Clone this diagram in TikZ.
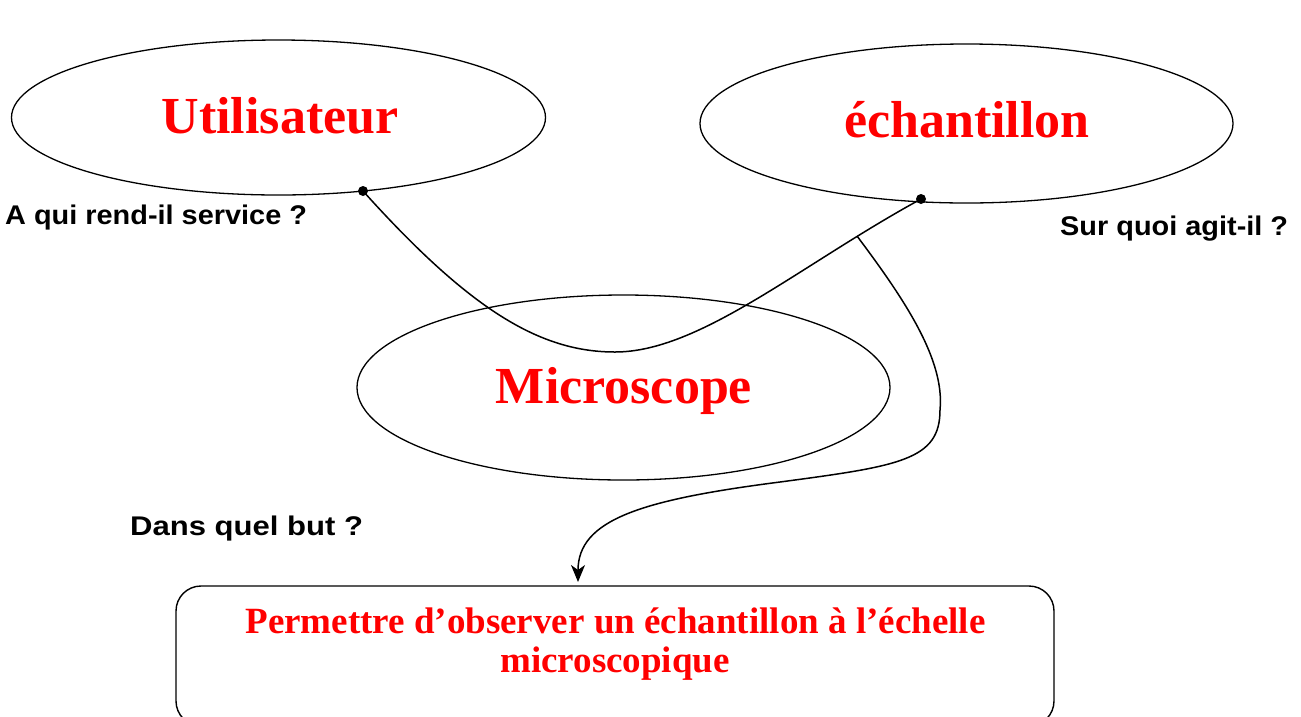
\documentclass[tikz,border=0pt]{standalone}
\usepackage{graphicx}
\usepackage{fontspec}
\setmainfont{Liberation Serif}
\newfontfamily\labelfont{Liberation Sans}
\usetikzlibrary{arrows.meta,shapes.geometric}
\newcommand{\widen}[2]{\scalebox{#1}[1]{#2}}
\begin{document}
\begin{tikzpicture}[x=1pt,y=-1pt,
  oval/.style={draw, line width=1.3pt, ellipse, inner sep=0pt},
  title/.style={text=red, font=\fontsize{52}{60}\selectfont\bfseries, anchor=base, inner sep=0pt},
  question/.style={font=\labelfont\fontsize{27}{30}\selectfont\bfseries, anchor=base west, inner sep=0pt},
  goal/.style={text=red, font=\fontsize{37}{40}\selectfont\bfseries, anchor=base, inner sep=0pt},
  goalbox/.style={draw, line width=1.4pt, rounded corners=25pt, minimum width=878pt, minimum height=140pt, inner sep=0pt},
  link/.style={line width=1.5pt},
  dot/.style={circle, fill, inner sep=0pt, minimum size=10pt}]
\useasboundingbox (0,0) rectangle (1301,716);
\clip (0,0) rectangle (1301,716);

% ellipses
\node[oval, minimum width=534pt, minimum height=155pt] (user) at (278.5,117.5) {};
\node[oval, minimum width=533pt, minimum height=159pt] (sample) at (966.5,123.5) {};
\node[oval, minimum width=533pt, minimum height=185pt] (micro) at (623.5,387.5) {};

% titles
\node[title] (usertxt) at (280,133) {Utilisateur};
\node[title] (sampletxt) at (967,137) {échantillon};
\node[title] (microtxt) at (624,403) {Microscope};

% goal box
\node[goalbox] (goal) at (615,656) {};
\node[goal] (goal1) at (615.5,633) {Permettre d’observer un échantillon à l’échelle};
\node[goal] (goal2) at (615,672) {microscopique};

% questions
\node[question] (q1) at (5,224) {\widen{1.07}{A qui rend-il service ?}};
\node[question] (q2) at (1060,235) {\widen{1.07}{Sur quoi agit-il ?}};
\node[question] (q3) at (130,535) {\widen{1.15}{Dans quel but ?}};

% connection points
\coordinate (pu) at (363,191);
\coordinate (ps) at (921,199);
\coordinate (low) at (615,352);
\coordinate (branch) at (857,236);
\coordinate (side) at (940,410);
\coordinate (mid) at (780,482);
\coordinate (tip) at (578,582);

\node[dot] (dotu) at (pu) {};
\node[dot] (dots) at (ps) {};

\draw[link] (dotu.center) .. controls (470,310) and (540,352) .. (low)
  .. controls (700,352) and (800,265) .. (dots.center);
\draw[link, -{Stealth[length=17pt,width=14pt,inset=5pt]}] (branch)
  .. controls (905,300) and (945,360) .. (side)
  .. controls (940,460) and (900,466) .. (mid)
  .. controls (640,500) and (578,520) .. (tip);
\end{tikzpicture}
\end{document}
